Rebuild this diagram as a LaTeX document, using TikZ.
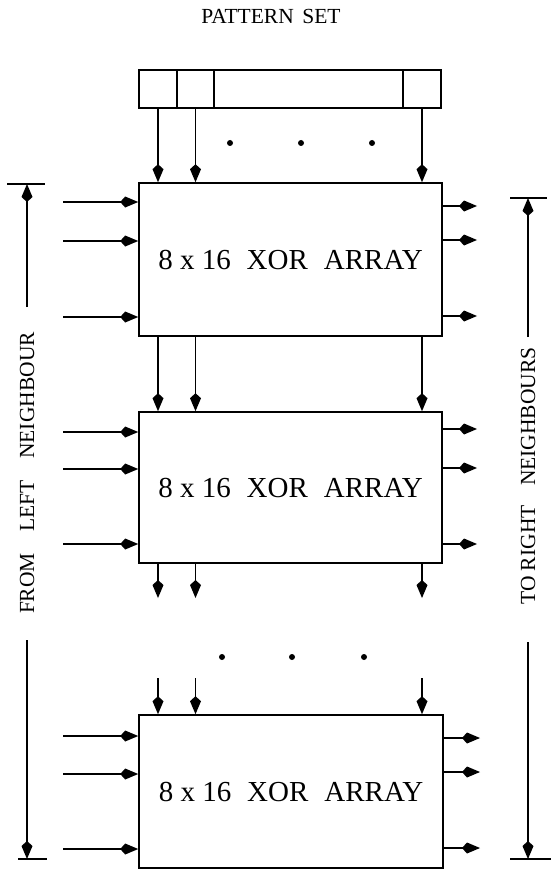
\documentclass[tikz,border=0pt]{standalone}
\usepackage{fontspec}
\setmainfont{Liberation Serif}
\usetikzlibrary{arrows.meta}
\begin{document}
\begin{tikzpicture}[x=1pt,y=-1pt,
  arr/.style={line width=1.5pt,-{Kite[length=18pt,width=11pt,inset=5pt]}},
  cell/.style={draw,line width=1.5pt,minimum height=38pt,inner sep=0pt},
  xorbox/.style={draw,line width=1.6pt,minimum width=303pt,inner sep=0pt,
    font=\fontsize{29}{34}\selectfont},
  dot/.style={circle,fill=black,inner sep=0pt,minimum size=6pt},
  lbl/.style={font=\fontsize{21.5}{26}\selectfont,inner sep=0pt},
  bar/.style={line width=1.5pt}]
\useasboundingbox (0,0) rectangle (551,869);

% title
\node[lbl] (title) at (271,16) {PATTERN\hspace{0.4em}SET};

% pattern register
\node[cell,minimum width=38pt] (c1) at (158,89) {};
\node[cell,minimum width=37pt] (c2) at (195.5,89) {};
\node[cell,minimum width=189pt] (c3) at (308.5,89) {};
\node[cell,minimum width=38pt] (c4) at (422,89) {};

% XOR arrays
\node[xorbox,minimum height=153pt] (b1) at (290.5,259.5) {8 x 16\hspace{0.55em}XOR\hspace{0.55em}ARRAY};
\node[xorbox,minimum height=151pt] (b2) at (290.5,487.5) {8 x 16\hspace{0.55em}XOR\hspace{0.55em}ARRAY};
\node[xorbox,minimum height=153pt,minimum width=304pt] (b3) at (291,791.5) {8 x 16\hspace{0.55em}XOR\hspace{0.55em}ARRAY};

% register -> array 1
\foreach \c in {c1,c2,c4}
  \draw[arr] (\c.south) -- (\c.south |- b1.north);
\node[dot] (d1) at (230,143) {};
\node[dot] (d2) at (301,143) {};
\node[dot] (d3) at (372,143) {};

% array 1 -> array 2
\foreach \c in {c1,c2,c4}
  \draw[arr] (b1.south -| \c) -- (b2.north -| \c);

% array 2 stubs
\foreach \c/\n in {c1/1,c2/2,c4/3} {
  \coordinate (s\n) at (\c |- 0,598);
  \draw[arr] (b2.south -| \c) -- (s\n);
}
\node[dot] (d4) at (222,657) {};
\node[dot] (d5) at (292,657) {};
\node[dot] (d6) at (364,657) {};
% array 3 stubs
\foreach \c/\n in {c1/1,c2/2,c4/3} {
  \coordinate (t\n) at (\c |- 0,678);
  \draw[arr] (t\n) -- (t\n |- b3.north);
}

% left inputs
\foreach \y/\b in {202/b1,241/b1,317/b1,432/b2,469/b2,544/b2,736/b3,774/b3,849/b3} {
  \coordinate (in) at (63,\y);
  \draw[arr] (in) -- (in -| \b.west);
}
% right outputs
\foreach \y/\b/\x in {206/b1/477,240/b1/477,316/b1/477,429/b2/477,468/b2/477,544/b2/477,738/b3/480,772/b3/480,848/b3/480} {
  \coordinate (out) at (\x,\y);
  \draw[arr] (out -| \b.east) -- (out);
}

% left dimension
\coordinate (lb1a) at (7,184);
\coordinate (lb1b) at (45,184);
\draw[bar] (lb1a) -- (lb1b);
\coordinate (la) at (27,307);
\draw[arr] (la) -- (la |- lb1a);
\node[lbl,rotate=90] (ltext) at (27,473) {FROM\hspace{1em}LEFT\hspace{1em}NEIGHBOUR};
\coordinate (lb2a) at (18,859);
\coordinate (lb2b) at (47,859);
\draw[bar] (lb2a) -- (lb2b);
\coordinate (lc) at (27,640);
\draw[arr] (lc) -- (lc |- lb2a);

% right dimension
\coordinate (rb1a) at (510,198);
\coordinate (rb1b) at (547,198);
\draw[bar] (rb1a) -- (rb1b);
\coordinate (ra) at (528,337);
\draw[arr] (ra) -- (ra |- rb1a);
\node[lbl,rotate=90] (rtext) at (528,476) {TO RIGHT\hspace{0.9em}NEIGHBOURS};
\coordinate (rb2a) at (510,859);
\coordinate (rb2b) at (551,859);
\draw[bar] (rb2a) -- (rb2b);
\coordinate (rc) at (528,642);
\draw[arr] (rc) -- (rc |- rb2a);
\end{tikzpicture}
\end{document}
